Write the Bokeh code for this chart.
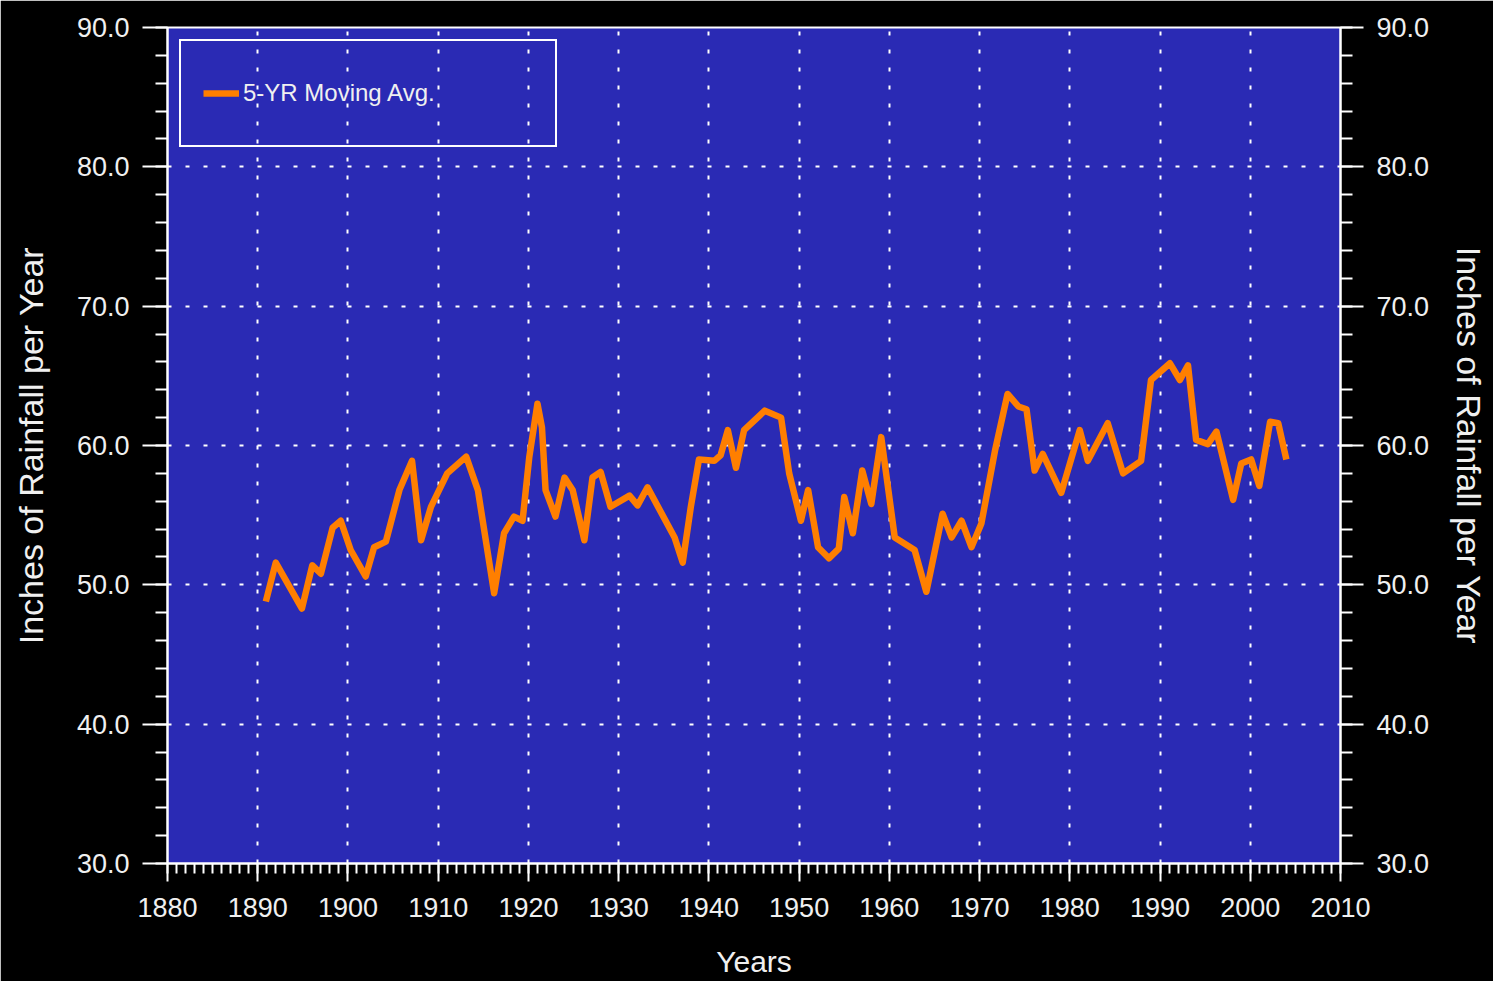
from bokeh.plotting import figure
from bokeh.models import (Range1d, LinearAxis, FixedTicker, PrintfTickFormatter,
                          Legend, LegendItem, ColumnDataSource)
from bokeh.embed import file_html
from bokeh.resources import INLINE

# 5-year moving average of annual rainfall (inches per year)
years = [1890.9, 1892.0, 1894.9, 1896.05, 1897.0, 1898.3, 1899.2, 1900.3, 1901.96, 1902.9,
         1904.2, 1905.7, 1907.1, 1908.1, 1909.2, 1911.0, 1913.1, 1914.4, 1916.2, 1917.3,
         1918.4, 1919.35, 1920.1, 1921.0, 1921.5, 1921.9, 1923.0, 1924.0, 1924.9, 1926.2,
         1927.1, 1928.0, 1929.1, 1931.2, 1932.1, 1933.2, 1936.2, 1937.1, 1938.0, 1938.9,
         1940.6, 1941.3, 1942.1, 1943.0, 1943.9, 1946.2, 1948.0, 1948.9, 1950.2, 1951.0,
         1952.1, 1953.3, 1954.4, 1955.0, 1955.95, 1957.0, 1958.0, 1959.1, 1960.6, 1962.8,
         1964.1, 1965.9, 1966.9, 1968.0, 1969.1, 1970.2, 1971.7, 1973.1, 1974.3, 1975.2,
         1976.1, 1977.0, 1979.05, 1981.1, 1982.0, 1984.2, 1985.9, 1987.9, 1989.0, 1991.1,
         1992.2, 1993.1, 1994.0, 1995.3, 1996.25, 1998.1, 1999.0, 2000.1, 2001.0, 2002.2,
         2003.1, 2004.0]
rain_avg = [48.8, 51.6, 48.3, 51.4, 50.8, 54.1, 54.6, 52.5, 50.6, 52.7,
            53.1, 56.8, 58.9, 53.2, 55.6, 58.0, 59.2, 56.8, 49.4, 53.7,
            54.9, 54.6, 59.2, 63.0, 61.3, 56.8, 54.9, 57.7, 56.8, 53.2,
            57.7, 58.1, 55.6, 56.4, 55.7, 57.0, 53.4, 51.6, 55.6, 59.0,
            58.9, 59.3, 61.1, 58.4, 61.1, 62.5, 62.0, 58.0, 54.6, 56.8,
            52.7, 51.9, 52.6, 56.3, 53.7, 58.2, 55.8, 60.6, 53.4, 52.5,
            49.5, 55.1, 53.4, 54.6, 52.7, 54.4, 59.6, 63.7, 62.8, 62.6,
            58.2, 59.4, 56.6, 61.1, 58.9, 61.6, 58.0, 58.9, 64.7, 65.9,
            64.7, 65.75, 60.4, 60.1, 61.0, 56.1, 58.7, 59.0, 57.1, 61.7,
            61.6, 59.0]

x_major = list(range(1880, 2011, 10))
x_minor = list(range(1880, 2011, 1))
y_major = list(range(30, 91, 10))
y_minor = list(range(30, 91, 2))

series_label = "5-YR Moving Avg."
y_title = "Inches of Rainfall per Year"
x_title = "Years"

FONT = "Liberation Sans"
TXT = "#f0f0f0"
BLUE = "#2a2ab4"
ORANGE = "#ff7f00"

p = figure(width=1493, height=981, output_backend="svg", toolbar_location=None,
           x_range=Range1d(1880, 2010), y_range=Range1d(30, 90),
           min_border_left=167, min_border_right=153, min_border_top=27,
           min_border_bottom=118, x_axis_location="below")
p.background_fill_color = BLUE
p.border_fill_color = "black"
p.outline_line_color = "white"
p.outline_line_width = 2

src = ColumnDataSource(dict(x=years, y=rain_avg))
r = p.line("x", "y", source=src, line_color=ORANGE, line_width=6.5, line_join="round")

right = LinearAxis()
p.add_layout(right, "right")

for ax in p.yaxis:
    ax.ticker = FixedTicker(ticks=y_major, minor_ticks=y_minor)
    ax.formatter = PrintfTickFormatter(format="%.1f")
    ax.axis_label = y_title
    ax.major_tick_out = 25
    ax.major_tick_in = 0
    ax.minor_tick_out = 12
    ax.minor_tick_in = 0
    ax.major_label_standoff = 13
    ax.axis_label_standoff = 24
right.major_tick_out = 23
right.axis_label_standoff = 18

for ax in p.xaxis:
    ax.ticker = FixedTicker(ticks=x_major, minor_ticks=x_minor)
    ax.formatter = PrintfTickFormatter(format="%d")
    ax.axis_label = x_title
    ax.major_tick_out = 18
    ax.major_tick_in = 0
    ax.minor_tick_out = 10
    ax.minor_tick_in = 0
    ax.major_label_standoff = 16
    ax.axis_label_standoff = 25

for ax in list(p.xaxis) + list(p.yaxis):
    ax.axis_line_color = "white"
    ax.axis_line_width = 2
    ax.major_tick_line_color = "white"
    ax.major_tick_line_width = 2
    ax.minor_tick_line_color = "white"
    ax.minor_tick_line_width = 2
    ax.major_label_text_color = TXT
    ax.major_label_text_font = FONT
    ax.major_label_text_font_size = "27px"
    ax.axis_label_text_color = TXT
    ax.axis_label_text_font = FONT
    ax.axis_label_text_font_style = "normal"
    ax.axis_label_text_font_size = "34px"

p.xaxis[0].axis_label_text_font_size = "30px"

for g in (p.xgrid[0], p.ygrid[0]):
    g.grid_line_color = "white"
    g.grid_line_width = 2
    g.grid_line_dash = "4 14"
p.xgrid[0].ticker = FixedTicker(ticks=x_major)
p.ygrid[0].ticker = FixedTicker(ticks=y_major)

legend = Legend(items=[LegendItem(label=series_label, renderers=[r])],
                location="top_left")
legend.margin = 12
legend.padding = 22
legend.spacing = 0
legend.background_fill_alpha = 0
legend.border_line_color = "white"
legend.border_line_alpha = 1.0
legend.border_line_width = 2
legend.label_text_color = TXT
legend.label_text_font = FONT
legend.label_text_font_size = "24px"
legend.glyph_width = 36
legend.glyph_height = 60
legend.label_height = 60
legend.label_width = 290
legend.label_standoff = 4
p.add_layout(legend, "center")

open("out.html", "w").write(file_html(p, INLINE))
